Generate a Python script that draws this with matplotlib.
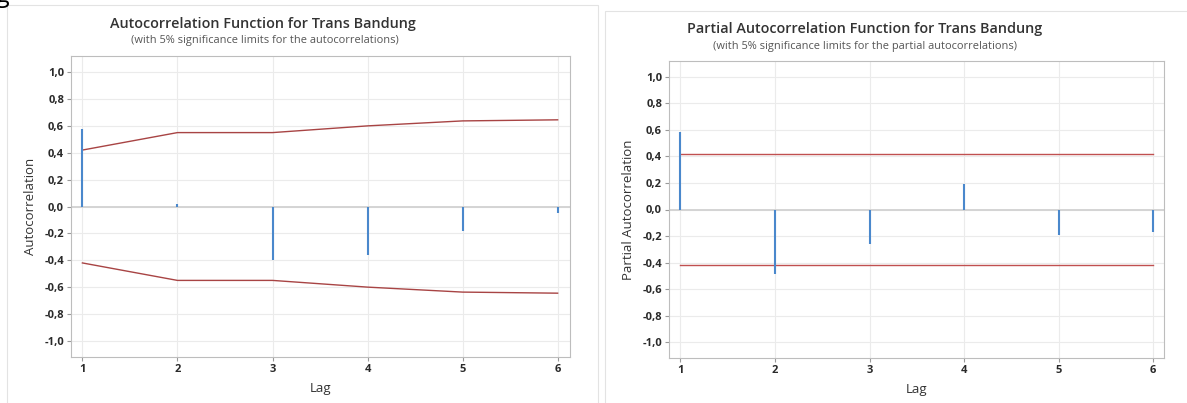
import matplotlib
matplotlib.use('Agg')
import matplotlib.pyplot as plt
from matplotlib.patches import Rectangle
from matplotlib.ticker import FuncFormatter

plt.rcParams['font.family'] = ['Open Sans', 'DejaVu Sans']

lags = [1, 2, 3, 4, 5, 6]
acf = [0.58, 0.02, -0.40, -0.36, -0.18, -0.05]
acf_limit = [0.42, 0.55, 0.55, 0.60, 0.637, 0.645]
pacf = [0.585, -0.485, -0.26, 0.196, -0.19, -0.17]
pacf_limit = [0.42, 0.42, 0.42, 0.42, 0.42, 0.42]
yticks = [-1.0, -0.8, -0.6, -0.4, -0.2, 0.0, 0.2, 0.4, 0.6, 0.8, 1.0]

W, H = 1187, 403
fig = plt.figure(figsize=(W / 100, H / 100), dpi=100)


def px_axes(left, right, top, bottom):
    return fig.add_axes([left / W, (H - bottom) / H, (right - left) / W, (bottom - top) / H])


def comma(v, pos):
    return '{:.1f}'.format(v).replace('.', ',')


def style(ax, ylabel, xlim):
    ax.set_xlim(*xlim)
    ax.set_ylim(-1.12, 1.12)
    ax.set_xticks(lags)
    ax.set_yticks(yticks)
    ax.yaxis.set_major_formatter(FuncFormatter(comma))
    ax.grid(True, color='#ebebeb', linewidth=0.8)
    ax.set_axisbelow(True)
    ax.axhline(0, color='#d4d4d4', linewidth=1.4, zorder=1)
    for s in ['top', 'right', 'left', 'bottom']:
        ax.spines[s].set_color('#bdbdbd')
    ax.tick_params(length=3, color='#9a9a9a', labelsize=8, labelcolor='#2a2a2a', pad=2)
    for lab in ax.get_xticklabels() + ax.get_yticklabels():
        lab.set_fontweight('bold')
    ax.set_ylabel(ylabel, fontsize=9.5, color='#333333', labelpad=5)
    ax.set_xlabel('Lag', fontsize=9.5, color='#333333', labelpad=5)


# panel frames
fig.patches.append(Rectangle((7 / W, -0.05), 591 / W, (H - 5) / H + 0.05, transform=fig.transFigure,
                             fill=False, edgecolor='#e3e3e3', linewidth=0.8))
fig.patches.append(Rectangle((605 / W, -0.05), 600 / W, (H - 11) / H + 0.05, transform=fig.transFigure,
                             fill=False, edgecolor='#e3e3e3', linewidth=0.8))
fig.text(2 / W, 1.0 + 4 / H, 'g', fontsize=18, color='black', ha='center', va='center')

# ACF
ax1 = px_axes(71, 570, 56, 357)
ax1.vlines(lags, 0, acf, color='#4a88cc', linewidth=1.5, zorder=3)
ax1.plot(lags, acf_limit, color='#a84444', linewidth=1)
ax1.plot(lags, [-v for v in acf_limit], color='#a84444', linewidth=1)
style(ax1, 'Autocorrelation', (0.88, 6.13))
fig.text(263 / W, 1 - 24 / H, 'Autocorrelation Function for Trans Bandung', fontsize=10.4,
         fontweight='semibold', color='#333333', ha='center', va='center')
fig.text(265 / W, 1 - 41 / H, '(with 5% significance limits for the autocorrelations)', fontsize=7.9,
         color='#555555', ha='center', va='center')

# PACF
ax2 = px_axes(669, 1164, 61, 358)
ax2.vlines(lags, 0, pacf, color='#4a88cc', linewidth=1.5, zorder=3)
ax2.plot(lags, pacf_limit, color='#c05050', linewidth=1)
ax2.plot(lags, [-v for v in pacf_limit], color='#c05050', linewidth=1)
style(ax2, 'Partial Autocorrelation', (0.88, 6.113))
fig.text(865 / W, 1 - 29 / H, 'Partial Autocorrelation Function for Trans Bandung', fontsize=10.4,
         fontweight='semibold', color='#333333', ha='center', va='center')
fig.text(865 / W, 1 - 46 / H, '(with 5% significance limits for the partial autocorrelations)', fontsize=7.9,
         color='#555555', ha='center', va='center')

plt.savefig('out.png', dpi=100)
